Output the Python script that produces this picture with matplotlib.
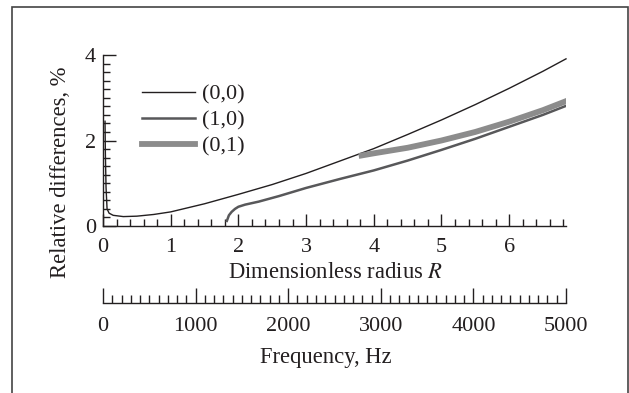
import matplotlib
matplotlib.use("Agg")
import matplotlib.pyplot as plt
from matplotlib.patches import Rectangle
from matplotlib.ticker import MultipleLocator

# (0,0) mode
r_00 = [0.03, 0.035, 0.045, 0.06, 0.09, 0.15, 0.3, 0.5, 0.75, 1.0, 1.5, 2.0, 2.5, 3.0,
        3.5, 4.0, 4.5, 5.0, 5.5, 6.0, 6.5, 6.84]
d_00 = [2.45, 1.7, 0.9, 0.4, 0.3, 0.25, 0.22, 0.23, 0.27, 0.33, 0.52, 0.74, 0.97, 1.23,
        1.52, 1.81, 2.14, 2.48, 2.84, 3.22, 3.62, 3.91]
# (1,0) mode
r_10 = [1.83, 1.86, 1.9, 1.95, 2.0, 2.1, 2.3, 2.6, 3.0, 3.5, 4.0, 4.5, 5.0, 5.5,
        6.0, 6.5, 6.84]
d_10 = [0.12, 0.25, 0.33, 0.4, 0.45, 0.5, 0.57, 0.7, 0.89, 1.1, 1.3, 1.53, 1.78, 2.04,
        2.32, 2.6, 2.81]
# (0,1) mode
r_01 = [3.82, 4.0, 4.5, 5.0, 5.5, 6.0, 6.5, 6.84]
d_01 = [1.65, 1.7, 1.83, 2.0, 2.2, 2.44, 2.71, 2.92]

r_max = 6.84
f_max = 5000

ink = "#231f20"
plt.rcParams["font.family"] = ["Liberation Serif", "DejaVu Serif"]
plt.rcParams["mathtext.fontset"] = "stix"
plt.rcParams["text.color"] = ink
plt.rcParams["axes.edgecolor"] = ink
plt.rcParams["xtick.color"] = ink
plt.rcParams["ytick.color"] = ink
plt.rcParams["font.size"] = 16

W, H = 629, 393
fig = plt.figure(figsize=(W / 100, H / 100), dpi=100)

# frame around the figure
fig.patches.append(Rectangle((12 / W, -0.05), (627.5 - 12) / W, 1.05 - 7 / H,
                             transform=fig.transFigure, fill=False,
                             edgecolor="#444444", linewidth=1.2))

left, right = 103 / W, 566 / W
ax = fig.add_axes([left, 1 - 226 / H, right - left, (226 - 55) / H])
ax.plot(r_00, d_00, color=ink, lw=1.0, label="(0,0)", zorder=3, clip_on=False)
ax.plot(r_10, d_10, color="#58585a", lw=1.8, label="(1,0)", zorder=3)
ax.plot(r_01, d_01, color="#8c8c8c", lw=4.2, label="(0,1)", zorder=3)
ax.set_xlim(0, r_max)
ax.set_ylim(0, 4)
for s in ["top", "right"]:
    ax.spines[s].set_visible(False)
ax.spines["left"].set_linewidth(1.0)
ax.spines["bottom"].set_linewidth(1.0)
ax.xaxis.set_major_locator(MultipleLocator(1))
ax.xaxis.set_minor_locator(MultipleLocator(0.2))
ax.yaxis.set_major_locator(MultipleLocator(2))
ax.yaxis.set_minor_locator(MultipleLocator(0.2))
ax.tick_params(which="both", direction="in", width=1.0)
ax.tick_params(which="major", length=9)
ax.tick_params(which="minor", length=5)
ax.tick_params(axis="x", which="major", pad=8.5)
ax.tick_params(axis="y", which="major", pad=5)
ax.legend(loc="upper left", bbox_to_anchor=(0.084, 0.83), frameon=False,
          handlelength=2.4, handletextpad=0.3, labelspacing=0.25,
          borderpad=0, borderaxespad=0, fontsize=16)

# frequency scale
ax2 = fig.add_axes([left, 1 - 303 / H, right - left, 0.001])
ax2.set_xlim(0, f_max)
ax2.set_yticks([])
for s in ["top", "right", "left"]:
    ax2.spines[s].set_visible(False)
ax2.spines["bottom"].set_linewidth(1.0)
ax2.xaxis.set_major_locator(MultipleLocator(1000))
ax2.xaxis.set_minor_locator(MultipleLocator(100))
ax2.tick_params(which="both", direction="in", width=1.0)
ax2.tick_params(which="major", length=11, pad=10)
ax2.tick_params(which="minor", length=6)
ax2.patch.set_visible(False)

fig.text(336 / W, 1 - 273 / H, "Dimensionless radius $R$", ha="center", va="center",
         fontsize=16.3)
fig.text(326 / W, 1 - 357 / H, "Frequency, Hz", ha="center", va="center", fontsize=16.3)
fig.text(60 / W, 1 - 172 / H, "Relative differences, %", ha="center", va="center",
         rotation=90, fontsize=16.3)

fig.savefig("out.png", dpi=100)
